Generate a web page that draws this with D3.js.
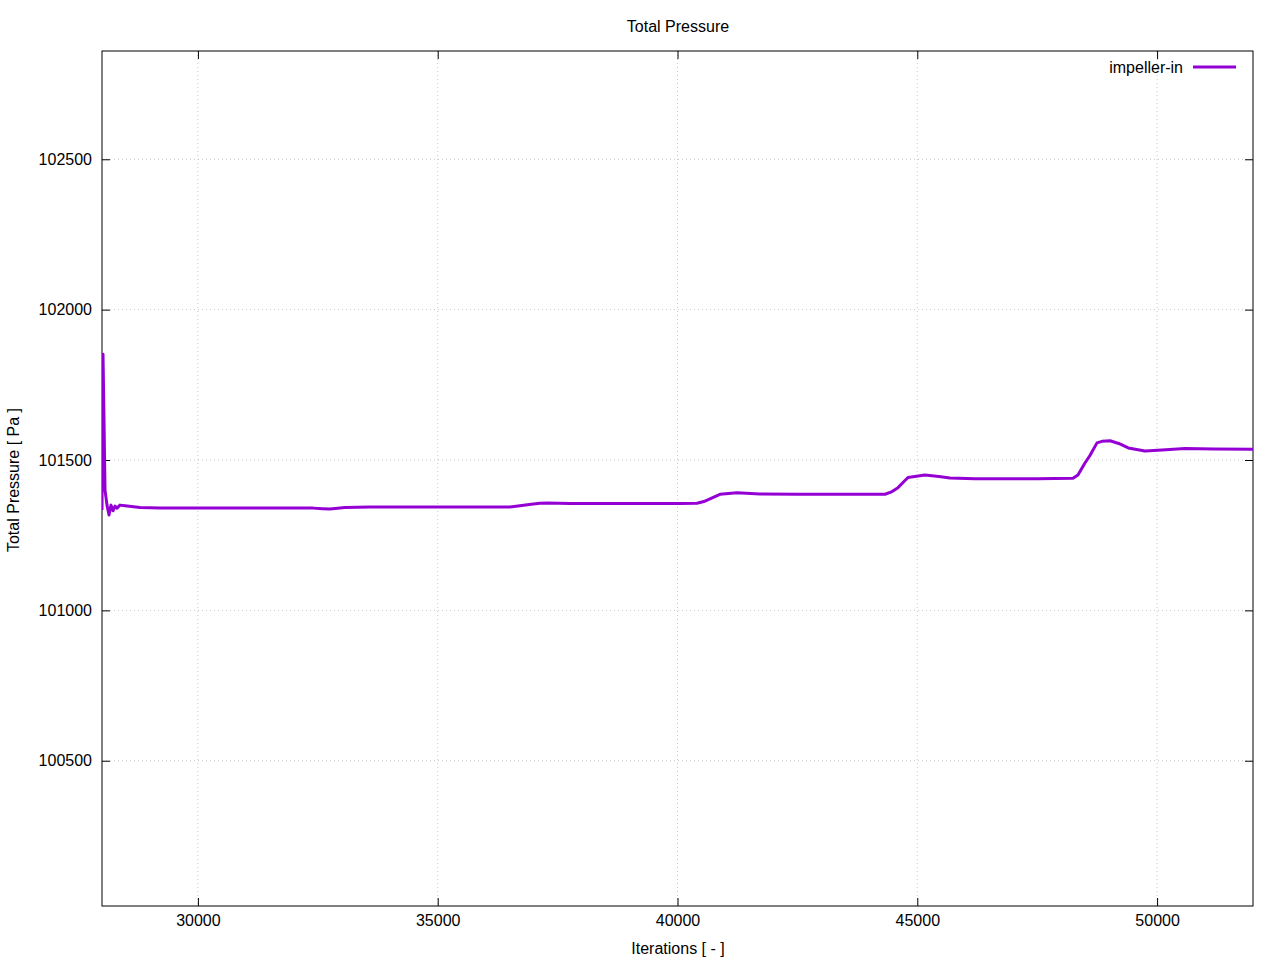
<!DOCTYPE html>
<html><head><meta charset="utf-8">
<script src="https://cdn.jsdelivr.net/npm/d3@7"></script>
<style>body{margin:0;background:#fff;} text{font-family:"Liberation Sans",Arial,sans-serif;}</style>
</head><body>
<svg id="c" width="1280" height="960"></svg>
<script>
const iterations = [28000,28021,28042,28063,28104,28146,28188,28229,28271,28313,28375,28480,28792,29209,30000,32400,32600,32754,33067,33588,36000,36507,36715,36950,37133,37279,37758,40052,40406,40550,40677,40886,41240,41720,42500,44326,44450,44597,44806,45160,45450,45681,46200,47500,48246,48350,48496,48600,48747,48850,49018,49200,49400,49748,50100,50582,51200,52000];
const pressure = [101334,101852,101633,101400,101350,101317,101350,101331,101347,101340,101350,101348,101342,101340,101340,101340,101338,101337,101342,101344,101344,101344,101348,101353,101356,101357,101355,101355,101356,101362,101371,101386,101391,101387,101386,101386,101393,101408,101442,101450,101445,101440,101438,101438,101439,101450,101490,101515,101557,101562,101564,101555,101540,101530,101533,101538,101537,101536];
const xTicks = [30000,35000,40000,45000,50000];
const yTicks = [100500,101000,101500,102000,102500];
const seriesName = "impeller-in";
const titleText = "Total Pressure";
const xLabel = "Iterations [ - ]";
const yLabel = "Total Pressure [ Pa ]";

const L=102,R=1253,T=51,B=906;
const svg=d3.select("#c");
const x=d3.scaleLinear().domain([28000,52000]).range([L,R]);
const y=d3.scaleLinear().domain([100017,102860]).range([B,T]);
const fs=16;

// grid
const g=svg.append("g");
xTicks.forEach(v=>g.append("line").attr("x1",x(v)).attr("x2",x(v)).attr("y1",T).attr("y2",B).attr("stroke","#c8c8c8").attr("stroke-dasharray","1,3"));
yTicks.forEach(v=>g.append("line").attr("x1",L).attr("x2",R).attr("y1",y(v)).attr("y2",y(v)).attr("stroke","#c8c8c8").attr("stroke-dasharray","1,3"));

// axes with inward ticks
const tl=8;
svg.append("g").attr("transform",`translate(0,${B})`).call(d3.axisBottom(x).tickValues(xTicks).tickSizeInner(-tl).tickSizeOuter(0).tickPadding(9).tickFormat(d3.format("d")))
  .call(a=>{a.select(".domain").remove();a.selectAll("text").attr("font-size",fs).attr("font-family","Liberation Sans, Arial").attr("fill","#000");a.selectAll("line").attr("stroke","#000");});
svg.append("g").attr("transform",`translate(0,${T})`).call(d3.axisTop(x).tickValues(xTicks).tickSizeInner(-tl).tickSizeOuter(0).tickFormat(""))
  .call(a=>{a.select(".domain").remove();a.selectAll("line").attr("stroke","#000");});
svg.append("g").attr("transform",`translate(${L},0)`).call(d3.axisLeft(y).tickValues(yTicks).tickSizeInner(-tl).tickSizeOuter(0).tickPadding(10).tickFormat(d3.format("d")))
  .call(a=>{a.select(".domain").remove();a.selectAll("text").attr("font-size",fs).attr("font-family","Liberation Sans, Arial").attr("fill","#000");a.selectAll("line").attr("stroke","#000");});
svg.append("g").attr("transform",`translate(${R},0)`).call(d3.axisRight(y).tickValues(yTicks).tickSizeInner(-tl).tickSizeOuter(0).tickFormat(""))
  .call(a=>{a.select(".domain").remove();a.selectAll("line").attr("stroke","#000");});

// frame
svg.append("rect").attr("x",L).attr("y",T).attr("width",R-L).attr("height",B-T).attr("fill","none").attr("stroke","#000").attr("stroke-width",1);

// line
const data=iterations.map((d,i)=>[d,pressure[i]]);
svg.append("defs").append("clipPath").attr("id","clip").append("rect").attr("x",L).attr("y",T).attr("width",R-L).attr("height",B-T);
svg.append("path").datum(data).attr("clip-path","url(#clip)").attr("fill","none").attr("stroke","#9400d3").attr("stroke-width",3).attr("stroke-linejoin","round")
  .attr("d",d3.line().x(d=>x(d[0])).y(d=>y(d[1])));

// legend
svg.append("text").attr("x",1183).attr("y",73).attr("text-anchor","end").attr("font-size",fs).text(seriesName);
svg.append("line").attr("x1",1193).attr("x2",1236).attr("y1",67).attr("y2",67).attr("stroke","#9400d3").attr("stroke-width",3);

// titles
svg.append("text").attr("x",678).attr("y",32).attr("text-anchor","middle").attr("font-size",fs).text(titleText);
svg.append("text").attr("x",678).attr("y",954).attr("text-anchor","middle").attr("font-size",fs).text(xLabel);
svg.append("text").attr("transform","translate(19,480) rotate(-90)").attr("text-anchor","middle").attr("font-size",fs).text(yLabel);
</script>
</body></html>
